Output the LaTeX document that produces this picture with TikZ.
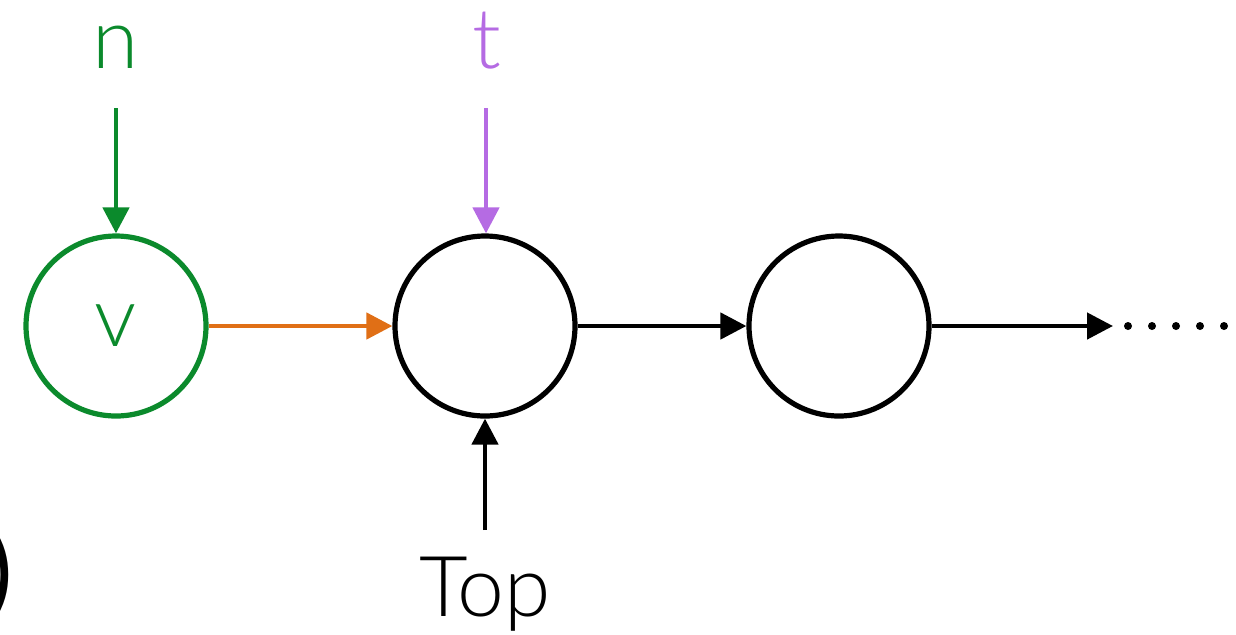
\documentclass[tikz,border=0pt]{standalone}
\usepackage{fontspec}
\setmainfont{Lato Light}
\usetikzlibrary{arrows.meta}

\definecolor{vgreen}{HTML}{0B8A2C}
\definecolor{tpurple}{HTML}{B56BE3}
\definecolor{vorange}{HTML}{E06F16}

\tikzset{
  state/.style={circle,draw,line width=2.6pt,minimum size=90pt,inner sep=0pt},
  flow/.style={line width=2.3pt,-{Triangle[length=13pt,width=13pt]}},
  label/.style={font=\fontsize{42}{42}\selectfont,inner sep=0pt}
}

\begin{document}
\begin{tikzpicture}[x=0.5pt,y=-0.5pt]
	\useasboundingbox (0,0) rectangle (1236,634);
	% chain of states
	\node[state,vgreen,label] (v) at (116,326) {v};
	\node[state] (s1) at (485,326) {};
	\node[state] (s2) at (839,326) {};
	% inputs from above and below
	\node[label,vgreen,anchor=base] (n) at (116,68) {n};
	\node[label,tpurple,anchor=base] (t) at (487,68) {t};
	\node[label,anchor=base] (top) at (485,616) {Top};
	\node[label,anchor=base east,font=\fontsize{50}{50}\fontspec{Lato}\selectfont] (paren) at (14,606) {)};
	\coordinate (nin) at (116,108);
	\coordinate (tin) at (486,108);
	\coordinate (topin) at (485,530);
	\coordinate (end) at (1113,326);
	\draw[flow,vgreen] (nin) -- (v.north);
	\draw[flow,tpurple] (tin) -- (tin |- s1.north);
	\draw[flow] (topin) -- (s1.south);
	% links between states
	\draw[flow,vorange] (v) -- (s1);
	\draw[flow] (s1) -- (s2);
	\draw[flow] (s2) -- (end);
	\foreach \x in {1128,1152,1176,1200,1224}
		\fill (\x,326) circle (2pt);
\end{tikzpicture}
\end{document}
